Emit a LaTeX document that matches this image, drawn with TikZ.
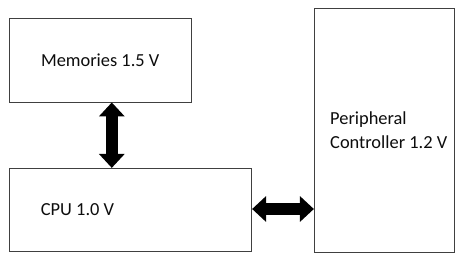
\documentclass[tikz,border=0pt]{standalone}
\usepackage{fontspec}
\setmainfont{Carlito}
\usetikzlibrary{arrows.meta}
\tikzset{
  blockbox/.style={draw=black!75, line width=0.8pt, fill=white, inner sep=0pt},
  blocktext/.style={inner sep=0pt, font=\fontsize{18.4}{23.7}\selectfont, text=black!95},
  busarrow/.style={line width=12pt, draw=black, {Triangle[width=25pt,length=14pt]}-{Triangle[width=25pt,length=14pt]}, shorten <=0pt, shorten >=0pt}
}
\begin{document}
\begin{tikzpicture}[x=1pt,y=-1pt]
\useasboundingbox (0,0) rectangle (460,262);
\node[blockbox, minimum width=181.7pt, minimum height=83.7pt] (mem) at (100.2,60.2) {};
\node[blockbox, minimum width=242.4pt, minimum height=83.4pt] (cpu) at (130.5,210) {};
\node[blockbox, minimum width=140pt, minimum height=244pt] (per) at (384.3,130.3) {};
\node[blocktext] (memt) at (mem.center) {Memories 1.5 V};
\node[blocktext, anchor=west] (cput) at (40.7,210) {CPU 1.0 V};
\node[blocktext, anchor=west, align=left] (pert) at (330,130) {Peripheral\\Controller 1.2 V};
\coordinate (a1) at (111.8,102);
\draw[busarrow] (mem.south -| a1) -- (cpu.north -| a1);
\coordinate (a2) at (283,209);
\draw[busarrow] (cpu.east |- a2) -- (per.west |- a2);
\end{tikzpicture}
\end{document}
